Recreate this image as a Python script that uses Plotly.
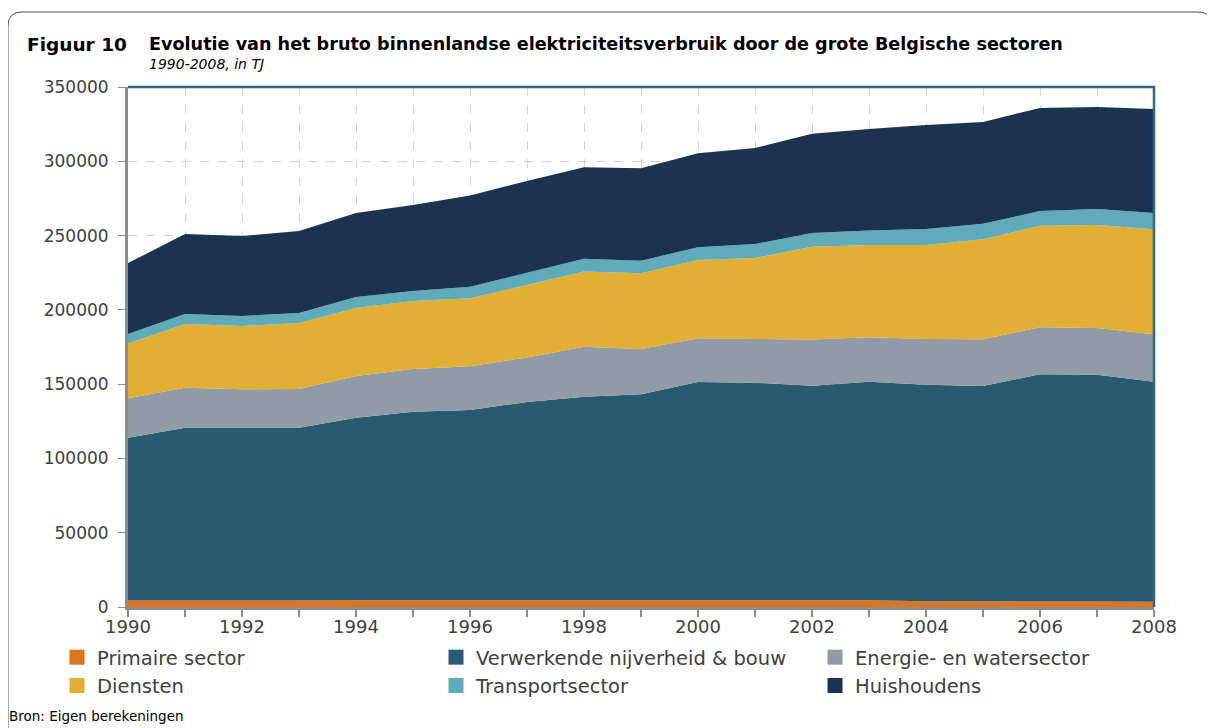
import plotly.graph_objects as go

years = list(range(1990, 2009))

primaire = [4300, 4400, 4400, 4400, 4500, 4500, 4500, 4500, 4600, 4600,
            4500, 4500, 4500, 4500, 3800, 3800, 3700, 3700, 3500]
verwerkende = [109600, 116300, 116300, 116300, 122900, 127000, 128100, 133500, 136900, 138600,
               146900, 146500, 144500, 147100, 145800, 145000, 152900, 152700, 148100]
energie = [26600, 26900, 25800, 26000, 28100, 28700, 29400, 30000, 33700, 30500,
           29500, 29400, 31000, 29900, 30800, 31500, 31700, 31400, 31900]
diensten = [36800, 42900, 42600, 44500, 45700, 45800, 45800, 48700, 50700, 50900,
            52700, 54500, 62400, 62200, 63300, 67300, 68300, 69300, 70700]
transport = [6400, 6700, 6800, 6700, 7500, 6700, 7700, 8300, 8500, 8500,
             8500, 9400, 9400, 9700, 10700, 10300, 9900, 10800, 11000]
huishoudens = [47800, 53800, 53800, 55100, 56500, 57900, 61500, 61700, 61600, 62200,
               63300, 64600, 66700, 68400, 70000, 68600, 69400, 68600, 70000]

series_names = ["Primaire sector", "Verwerkende nijverheid & bouw", "Energie- en watersector",
                "Diensten", "Transportsector", "Huishoudens"]
series_values = [primaire, verwerkende, energie, diensten, transport, huishoudens]
colors = ["#dd7520", "#285b70", "#919ba6", "#e0af33", "#5fabb9", "#1b334f"]

y_ticks = [0, 50000, 100000, 150000, 200000, 250000, 300000, 350000]
x_tickvals = years
x_ticktext = [str(y) if y % 2 == 0 else "" for y in years]

FONT = "DejaVu Sans"

fig = go.Figure()
for name, vals, col in zip(series_names, series_values, colors):
    fig.add_trace(go.Scatter(
        x=years, y=vals, name=name, stackgroup="one", mode="none",
        fillcolor=col, line=dict(width=0), showlegend=False,
        hoverinfo="x+y+name",
    ))
# legend entries with square markers
for name, col in zip(series_names, colors):
    fig.add_trace(go.Scatter(
        x=[None], y=[None], name=name, mode="markers",
        marker=dict(symbol="square", size=15, color=col),
        showlegend=True,
    ))

# page offset of the plot div (body margin)
OFF = 8
FW, FH = 1215 - OFF, 728 - OFF
# plot area in reference (screen) pixels
L, R, T, B = 128, 1154, 87, 607
W, H = R - L, B - T

def px(x):
    return (x - L) / W

def py(y):
    return (B - y) / H

# rounded outer frame
xl, xr, yt, yb = px(8), px(1212), py(12), py(760)
rx, ry = 14 / W, 14 / H
frame = (f"M{xl},{yb} L{xl},{yt - ry} Q{xl},{yt} {xl + rx},{yt} "
         f"L{xr - rx},{yt} Q{xr},{yt} {xr},{yt - ry} L{xr},{yb}")

fig.update_layout(
    width=FW, height=FH,
    margin=dict(l=L - OFF, r=FW - (R - OFF), t=T - OFF, b=FH - (B - OFF), autoexpand=False),
    paper_bgcolor="white", plot_bgcolor="white",
    font=dict(family=FONT, size=17, color="#404040"),
    showlegend=True,
    legend=dict(
        orientation="h", x=px(57), xanchor="left", y=py(638), yanchor="top",
        entrywidth=334, entrywidthmode="pixels", traceorder="normal",
        font=dict(family=FONT, size=19.5, color="#404040"),
        itemsizing="trace", bgcolor="rgba(0,0,0,0)",
    ),
    xaxis=dict(
        range=[1990, 2008], tickmode="array", tickvals=x_tickvals, ticktext=x_ticktext,
        showgrid=True, gridcolor="#d4d4d4", griddash="dash", gridwidth=1,
        showline=True, linecolor="#8c8c8c", linewidth=3,
        ticks="outside", ticklen=7, tickwidth=2, tickcolor="#8c8c8c",
        ticklabelstandoff=-6,
        tickfont=dict(family=FONT, size=18, color="#404040"),
        zeroline=False, fixedrange=True,
    ),
    yaxis=dict(
        range=[0, 350000], tickmode="array", tickvals=y_ticks,
        ticktext=[str(v) for v in y_ticks],
        showgrid=True, gridcolor="#d4d4d4", griddash="dash", gridwidth=1,
        showline=True, linecolor="#8c8c8c", linewidth=3,
        ticks="outside", ticklen=7, tickwidth=1, tickcolor="#8c8c8c",
        ticklabelstandoff=6,
        tickfont=dict(family=FONT, size=17, color="#404040"),
        zeroline=False, fixedrange=True,
    ),
    shapes=[
        dict(type="path", xref="paper", yref="paper",
             path="M0,1 L1,1 L1,0", line=dict(color="#2f6a80", width=2.5), layer="above"),
        dict(type="path", xref="paper", yref="paper", path=frame,
             line=dict(color="#555555", width=1)),
    ],
    annotations=[
        dict(text="<b>Figuur 10</b>", xref="paper", yref="paper", x=px(25), y=py(44),
             xanchor="left", yanchor="middle", showarrow=False,
             font=dict(family=FONT, size=18.5, color="#000000")),
        dict(text="<b>Evolutie van het bruto binnenlandse elektriciteitsverbruik door de grote Belgische sectoren</b>",
             xref="paper", yref="paper", x=px(147), y=py(44),
             xanchor="left", yanchor="middle", showarrow=False,
             font=dict(family=FONT, size=17.6, color="#000000")),
        dict(text="<i>1990-2008, in TJ</i>", xref="paper", yref="paper", x=px(147), y=py(64),
             xanchor="left", yanchor="middle", showarrow=False,
             font=dict(family=FONT, size=14, color="#000000")),
        dict(text="Bron: Eigen berekeningen", xref="paper", yref="paper", x=px(7), y=py(716),
             xanchor="left", yanchor="middle", showarrow=False,
             font=dict(family=FONT, size=13.5, color="#000000")),
    ],
)

fig.write_html("out.html")
